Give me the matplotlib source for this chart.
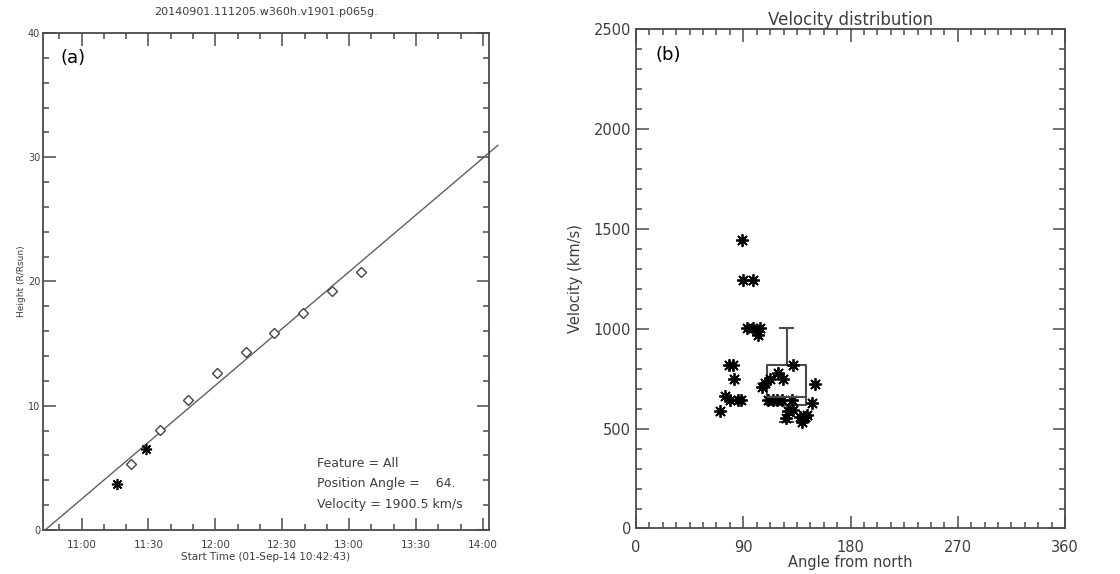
import matplotlib.pyplot as plt
import numpy as np
from matplotlib.ticker import MultipleLocator, FixedLocator

## Data ---------------------------------------------

# panel (a): minutes after 10:42:43, height in solar radii
start_clock = "10:42:43"
tick_clocks = ["11:00", "11:30", "12:00", "12:30", "13:00", "13:30", "14:00"]
diamond_t = [39.3, 52.3, 65.2, 78.0, 90.9, 103.7, 116.7, 129.6, 142.5]
diamond_h = [5.29, 8.02, 10.49, 12.64, 14.33, 15.83, 17.44, 19.24, 20.79]
star_t = [33.0, 46.0]
star_h = [3.70, 6.52]
fit_intercept = -0.15
fit_slope = 0.1525
fit_t_end = 204

# panel (b): angle from north (deg) and velocity (km/s)
angles = [89.2, 90.0, 98.4, 92.9, 98.4, 104.1, 102.6,
          78.0, 81.4, 82.2, 74.3, 78.9, 85.2, 87.7, 70.5,
          132.0, 119.4, 123.6, 112.5, 108.3, 105.7, 150.2,
          110.4, 115.2, 118.7, 122.9, 130.7, 147.4,
          127.6, 132.0, 125.9, 137.6, 141.8, 143.3, 139.1]
velocities = [1444, 1244, 1244, 1002, 1002, 1002, 968,
              816, 816, 748, 661, 641, 641, 641, 586,
              818, 778, 746, 748, 727, 710, 722,
              643, 643, 643, 643, 643, 627,
              588, 593, 553, 560, 560, 568, 535]
box_stats = dict(whislo=535, q1=620, med=660, q3=816, whishi=1002)
box_pos = 126.6
box_width = 32.7


def clock_to_min(s):
    parts = [int(p) for p in s.split(":")] + [0]
    h, m, sec = parts[:3]
    return h * 60 + m + sec / 60.0


t0 = clock_to_min(start_clock)
tick_min = [clock_to_min(c) - t0 for c in tick_clocks]

## Figure -------------------------------------------

AX = "#4a4a4a"
TXT = "#3e3e3e"
plt.rcParams['font.family'] = ['DejaVu Sans']

fig = plt.figure(figsize=(11.2, 5.74), dpi=100)
axa = fig.add_axes([0.0384, 0.0767, 0.3982, 0.8658])
axb = fig.add_axes([0.5679, 0.0793, 0.3830, 0.8702])

for ax in (axa, axb):
    for sp in ax.spines.values():
        sp.set_color(AX)
        sp.set_linewidth(1.3)
    ax.tick_params(which='both', direction='in', top=True, right=True, color=AX, width=1.1)
    ax.tick_params(which='major', length=9)
    ax.tick_params(which='minor', length=4.5)

## Panel (a) ----------------------------------------

t_line = np.array([max(0.0, -fit_intercept / fit_slope), fit_t_end])
axa.plot(t_line, fit_intercept + fit_slope * t_line, color="#606060", lw=1.0, clip_on=False)
axa.plot(diamond_t, diamond_h, linestyle='none', marker='D', ms=5, mfc='white',
         mec="#444444", mew=1.0)
axa.plot(star_t, star_h, linestyle='none', marker=(8, 2, 0), ms=8, color='black', mew=1.2)

axa.set_xlim(0, 200)
axa.set_ylim(0, 40)
axa.xaxis.set_major_locator(FixedLocator(tick_min))
axa.set_xticklabels(tick_clocks)
axa.xaxis.set_minor_locator(FixedLocator(np.arange(tick_min[0] - 10, 200, 10)))
axa.yaxis.set_major_locator(MultipleLocator(10))
axa.yaxis.set_minor_locator(MultipleLocator(2))
axa.tick_params(axis='x', labelsize=7.5, labelcolor=TXT, pad=7)
axa.tick_params(axis='y', labelsize=7, labelcolor=TXT, pad=2)
axa.set_xlabel("Start Time (01-Sep-14 10:42:43)", fontsize=7.5, color=TXT, labelpad=2)
axa.set_ylabel("Height (R/Rsun)", fontsize=6.5, color=TXT, labelpad=1)
axa.set_title("20140901.111205.w360h.v1901.p065g.", fontsize=8, color=TXT, pad=13)
axa.text(0.04, 0.968, "(a)", transform=axa.transAxes, fontsize=13, va='top', color='black')
axa.text(0.615, 0.093, "Feature = All\nPosition Angle =    64.\nVelocity = 1900.5 km/s",
         transform=axa.transAxes, fontsize=9, va='center', ha='left', color=TXT,
         linespacing=1.75)

## Panel (b) ----------------------------------------

stats = dict(box_stats)
axb.bxp([stats], positions=[box_pos], widths=box_width, capwidths=[11],
        showfliers=False, manage_ticks=False,
        boxprops=dict(color=AX, lw=1.5), whiskerprops=dict(color=AX, lw=1.5),
        capprops=dict(color=AX, lw=1.5), medianprops=dict(color=AX, lw=1.5))
axb.plot(angles, velocities, linestyle='none', marker=(8, 2, 0), ms=9,
         color='black', mew=1.3)

axb.set_xlim(0, 360)
axb.set_ylim(0, 2500)
axb.xaxis.set_major_locator(MultipleLocator(90))
axb.xaxis.set_minor_locator(MultipleLocator(11.25))
axb.yaxis.set_major_locator(MultipleLocator(500))
axb.yaxis.set_minor_locator(MultipleLocator(100))
axb.tick_params(labelsize=10.5, labelcolor=TXT)
axb.tick_params(axis='x', pad=8)
axb.set_xlabel("Angle from north", fontsize=10.5, color=TXT, labelpad=0)
axb.set_ylabel("Velocity (km/s)", fontsize=10.5, color=TXT, labelpad=8)
axb.set_title("Velocity distribution", fontsize=12, color=TXT, pad=3)
axb.text(0.045, 0.965, "(b)", transform=axb.transAxes, fontsize=13, va='top', color='black')

fig.savefig("out.png", dpi=100)
